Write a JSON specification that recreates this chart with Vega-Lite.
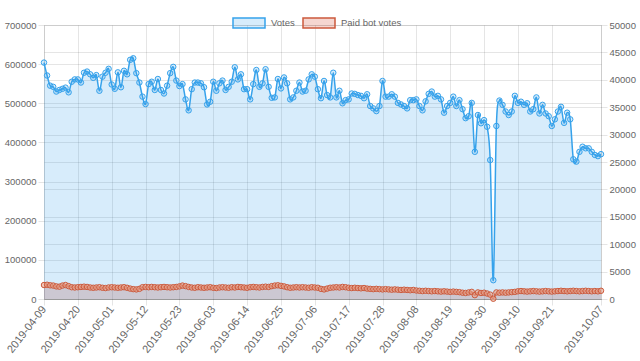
{
  "$schema": "https://vega.github.io/schema/vega-lite/v6.json",
  "width": 557,
  "height": 274,
  "autosize": "none",
  "padding": {"left": 44, "top": 25, "right": 39, "bottom": 62},
  "background": "white",
  "config": {
    "view": {"stroke": null},
    "font": "Liberation Sans",
    "axis": {
      "labelFont": "Liberation Sans",
      "labelFontSize": 9.5,
      "labelColor": "#666666",
      "gridColor": "#000000",
      "gridOpacity": 0.1,
      "tickColor": "#000000",
      "tickOpacity": 0.1,
      "domainColor": "#000000",
      "domainOpacity": 0.1,
      "tickSize": 6,
      "labelPadding": 2,
      "title": null
    }
  },
  "data": {"values": [
    {"date":"2019-04-09","votes":604000,"paid":2550},
    {"date":"2019-04-10","votes":571000,"paid":2600},
    {"date":"2019-04-11","votes":545000,"paid":2500},
    {"date":"2019-04-12","votes":542000,"paid":2450},
    {"date":"2019-04-13","votes":530000,"paid":2300},
    {"date":"2019-04-14","votes":534000,"paid":2250},
    {"date":"2019-04-15","votes":537000,"paid":2450},
    {"date":"2019-04-16","votes":540000,"paid":2550},
    {"date":"2019-04-17","votes":528000,"paid":2350},
    {"date":"2019-04-18","votes":555000,"paid":2150},
    {"date":"2019-04-19","votes":561000,"paid":2100},
    {"date":"2019-04-20","votes":561000,"paid":2150},
    {"date":"2019-04-21","votes":553000,"paid":2200},
    {"date":"2019-04-22","votes":578000,"paid":2250},
    {"date":"2019-04-23","votes":581000,"paid":2200},
    {"date":"2019-04-24","votes":574000,"paid":2100},
    {"date":"2019-04-25","votes":565000,"paid":2050},
    {"date":"2019-04-26","votes":572000,"paid":2100},
    {"date":"2019-04-27","votes":532000,"paid":2150},
    {"date":"2019-04-28","votes":568000,"paid":2050},
    {"date":"2019-04-29","votes":578000,"paid":2000},
    {"date":"2019-04-30","votes":588000,"paid":2100},
    {"date":"2019-05-01","votes":548000,"paid":2150},
    {"date":"2019-05-02","votes":537000,"paid":2100},
    {"date":"2019-05-03","votes":579000,"paid":2050},
    {"date":"2019-05-04","votes":541000,"paid":2100},
    {"date":"2019-05-05","votes":583000,"paid":2150},
    {"date":"2019-05-06","votes":574000,"paid":2050},
    {"date":"2019-05-07","votes":611000,"paid":1900},
    {"date":"2019-05-08","votes":615000,"paid":1800},
    {"date":"2019-05-09","votes":577000,"paid":1750},
    {"date":"2019-05-10","votes":553000,"paid":1850},
    {"date":"2019-05-11","votes":517000,"paid":2150},
    {"date":"2019-05-12","votes":498000,"paid":2200},
    {"date":"2019-05-13","votes":549000,"paid":2150},
    {"date":"2019-05-14","votes":555000,"paid":2200},
    {"date":"2019-05-15","votes":534000,"paid":2150},
    {"date":"2019-05-16","votes":562000,"paid":2100},
    {"date":"2019-05-17","votes":534000,"paid":2150},
    {"date":"2019-05-18","votes":525000,"paid":2200},
    {"date":"2019-05-19","votes":545000,"paid":2150},
    {"date":"2019-05-20","votes":577000,"paid":2100},
    {"date":"2019-05-21","votes":593000,"paid":2150},
    {"date":"2019-05-22","votes":558000,"paid":2200},
    {"date":"2019-05-23","votes":544000,"paid":2300},
    {"date":"2019-05-24","votes":549000,"paid":2450},
    {"date":"2019-05-25","votes":510000,"paid":2350},
    {"date":"2019-05-26","votes":482000,"paid":2200},
    {"date":"2019-05-27","votes":536000,"paid":2100},
    {"date":"2019-05-28","votes":553000,"paid":2050},
    {"date":"2019-05-29","votes":553000,"paid":2150},
    {"date":"2019-05-30","votes":551000,"paid":2100},
    {"date":"2019-05-31","votes":541000,"paid":2050},
    {"date":"2019-06-01","votes":497000,"paid":2100},
    {"date":"2019-06-02","votes":504000,"paid":2150},
    {"date":"2019-06-03","votes":555000,"paid":2050},
    {"date":"2019-06-04","votes":532000,"paid":2000},
    {"date":"2019-06-05","votes":551000,"paid":2100},
    {"date":"2019-06-06","votes":558000,"paid":2150},
    {"date":"2019-06-07","votes":534000,"paid":2100},
    {"date":"2019-06-08","votes":542000,"paid":2050},
    {"date":"2019-06-09","votes":555000,"paid":2150},
    {"date":"2019-06-10","votes":592000,"paid":2100},
    {"date":"2019-06-11","votes":561000,"paid":2200},
    {"date":"2019-06-12","votes":574000,"paid":2150},
    {"date":"2019-06-13","votes":536000,"paid":2100},
    {"date":"2019-06-14","votes":536000,"paid":2050},
    {"date":"2019-06-15","votes":510000,"paid":2150},
    {"date":"2019-06-16","votes":549000,"paid":2200},
    {"date":"2019-06-17","votes":585000,"paid":2150},
    {"date":"2019-06-18","votes":542000,"paid":2100},
    {"date":"2019-06-19","votes":551000,"paid":2200},
    {"date":"2019-06-20","votes":587000,"paid":2250},
    {"date":"2019-06-21","votes":542000,"paid":2200},
    {"date":"2019-06-22","votes":514000,"paid":2350},
    {"date":"2019-06-23","votes":515000,"paid":2450},
    {"date":"2019-06-24","votes":562000,"paid":2500},
    {"date":"2019-06-25","votes":538000,"paid":2400},
    {"date":"2019-06-26","votes":566000,"paid":2300},
    {"date":"2019-06-27","votes":551000,"paid":2150},
    {"date":"2019-06-28","votes":510000,"paid":2050},
    {"date":"2019-06-29","votes":515000,"paid":2100},
    {"date":"2019-06-30","votes":532000,"paid":2150},
    {"date":"2019-07-01","votes":553000,"paid":2100},
    {"date":"2019-07-02","votes":530000,"paid":2150},
    {"date":"2019-07-03","votes":532000,"paid":2100},
    {"date":"2019-07-04","votes":561000,"paid":2050},
    {"date":"2019-07-05","votes":574000,"paid":2150},
    {"date":"2019-07-06","votes":568000,"paid":2100},
    {"date":"2019-07-07","votes":536000,"paid":2050},
    {"date":"2019-07-08","votes":513000,"paid":1850},
    {"date":"2019-07-09","votes":557000,"paid":1750},
    {"date":"2019-07-10","votes":521000,"paid":1900},
    {"date":"2019-07-11","votes":515000,"paid":2050},
    {"date":"2019-07-12","votes":578000,"paid":2100},
    {"date":"2019-07-13","votes":515000,"paid":2150},
    {"date":"2019-07-14","votes":532000,"paid":2100},
    {"date":"2019-07-15","votes":500000,"paid":2200},
    {"date":"2019-07-16","votes":508000,"paid":2150},
    {"date":"2019-07-17","votes":510000,"paid":2050},
    {"date":"2019-07-18","votes":525000,"paid":2000},
    {"date":"2019-07-19","votes":524000,"paid":2050},
    {"date":"2019-07-20","votes":521000,"paid":2000},
    {"date":"2019-07-21","votes":519000,"paid":1950},
    {"date":"2019-07-22","votes":513000,"paid":2000},
    {"date":"2019-07-23","votes":523000,"paid":1900},
    {"date":"2019-07-24","votes":493000,"paid":1850},
    {"date":"2019-07-25","votes":487000,"paid":1800},
    {"date":"2019-07-26","votes":480000,"paid":1850},
    {"date":"2019-07-27","votes":493000,"paid":1800},
    {"date":"2019-07-28","votes":557000,"paid":1750},
    {"date":"2019-07-29","votes":517000,"paid":1800},
    {"date":"2019-07-30","votes":517000,"paid":1750},
    {"date":"2019-07-31","votes":523000,"paid":1700},
    {"date":"2019-08-01","votes":517000,"paid":1750},
    {"date":"2019-08-02","votes":501000,"paid":1700},
    {"date":"2019-08-03","votes":497000,"paid":1650},
    {"date":"2019-08-04","votes":493000,"paid":1700},
    {"date":"2019-08-05","votes":487000,"paid":1650},
    {"date":"2019-08-06","votes":508000,"paid":1600},
    {"date":"2019-08-07","votes":508000,"paid":1650},
    {"date":"2019-08-08","votes":510000,"paid":1550},
    {"date":"2019-08-09","votes":493000,"paid":1500},
    {"date":"2019-08-10","votes":482000,"paid":1450},
    {"date":"2019-08-11","votes":505000,"paid":1500},
    {"date":"2019-08-12","votes":524000,"paid":1450},
    {"date":"2019-08-13","votes":530000,"paid":1400},
    {"date":"2019-08-14","votes":517000,"paid":1450},
    {"date":"2019-08-15","votes":519000,"paid":1400},
    {"date":"2019-08-16","votes":510000,"paid":1350},
    {"date":"2019-08-17","votes":476000,"paid":1400},
    {"date":"2019-08-18","votes":493000,"paid":1350},
    {"date":"2019-08-19","votes":501000,"paid":1300},
    {"date":"2019-08-20","votes":517000,"paid":1350},
    {"date":"2019-08-21","votes":493000,"paid":1300},
    {"date":"2019-08-22","votes":508000,"paid":1250},
    {"date":"2019-08-23","votes":485000,"paid":1150},
    {"date":"2019-08-24","votes":462000,"paid":1100},
    {"date":"2019-08-25","votes":467000,"paid":1200},
    {"date":"2019-08-26","votes":501000,"paid":1300},
    {"date":"2019-08-27","votes":376000,"paid":700},
    {"date":"2019-08-28","votes":470000,"paid":1200},
    {"date":"2019-08-29","votes":449000,"paid":1100},
    {"date":"2019-08-30","votes":457000,"paid":1150},
    {"date":"2019-08-31","votes":440000,"paid":1000},
    {"date":"2019-09-01","votes":355000,"paid":800},
    {"date":"2019-09-02","votes":48000,"paid":50},
    {"date":"2019-09-03","votes":442000,"paid":1200},
    {"date":"2019-09-04","votes":507000,"paid":1150},
    {"date":"2019-09-05","votes":496000,"paid":1200},
    {"date":"2019-09-06","votes":479000,"paid":1150},
    {"date":"2019-09-07","votes":470000,"paid":1200},
    {"date":"2019-09-08","votes":479000,"paid":1250},
    {"date":"2019-09-09","votes":519000,"paid":1300},
    {"date":"2019-09-10","votes":501000,"paid":1400},
    {"date":"2019-09-11","votes":504000,"paid":1450},
    {"date":"2019-09-12","votes":496000,"paid":1400},
    {"date":"2019-09-13","votes":500000,"paid":1350},
    {"date":"2019-09-14","votes":479000,"paid":1400},
    {"date":"2019-09-15","votes":485000,"paid":1450},
    {"date":"2019-09-16","votes":515000,"paid":1400},
    {"date":"2019-09-17","votes":474000,"paid":1350},
    {"date":"2019-09-18","votes":496000,"paid":1400},
    {"date":"2019-09-19","votes":474000,"paid":1450},
    {"date":"2019-09-20","votes":467000,"paid":1400},
    {"date":"2019-09-21","votes":442000,"paid":1350},
    {"date":"2019-09-22","votes":459000,"paid":1400},
    {"date":"2019-09-23","votes":479000,"paid":1450},
    {"date":"2019-09-24","votes":491000,"paid":1500},
    {"date":"2019-09-25","votes":450000,"paid":1450},
    {"date":"2019-09-26","votes":476000,"paid":1400},
    {"date":"2019-09-27","votes":459000,"paid":1450},
    {"date":"2019-09-28","votes":357000,"paid":1500},
    {"date":"2019-09-29","votes":351000,"paid":1450},
    {"date":"2019-09-30","votes":376000,"paid":1400},
    {"date":"2019-10-01","votes":389000,"paid":1450},
    {"date":"2019-10-02","votes":385000,"paid":1500},
    {"date":"2019-10-03","votes":385000,"paid":1450},
    {"date":"2019-10-04","votes":376000,"paid":1400},
    {"date":"2019-10-05","votes":368000,"paid":1450},
    {"date":"2019-10-06","votes":365000,"paid":1400},
    {"date":"2019-10-07","votes":370000,"paid":1500}
  ]},
  "encoding": {
    "x": {
      "field": "date",
      "type": "temporal",
      "scale": {"type": "utc", "domain": [
        {"year": 2019, "month": 4, "date": 9, "utc": true},
        {"year": 2019, "month": 10, "date": 7, "utc": true}
      ]},
      "axis": {
        "values": [
          {"year": 2019, "month": 4, "date": 9, "utc": true},
          {"year": 2019, "month": 4, "date": 20, "utc": true},
          {"year": 2019, "month": 5, "date": 1, "utc": true},
          {"year": 2019, "month": 5, "date": 12, "utc": true},
          {"year": 2019, "month": 5, "date": 23, "utc": true},
          {"year": 2019, "month": 6, "date": 3, "utc": true},
          {"year": 2019, "month": 6, "date": 14, "utc": true},
          {"year": 2019, "month": 6, "date": 25, "utc": true},
          {"year": 2019, "month": 7, "date": 6, "utc": true},
          {"year": 2019, "month": 7, "date": 17, "utc": true},
          {"year": 2019, "month": 7, "date": 28, "utc": true},
          {"year": 2019, "month": 8, "date": 8, "utc": true},
          {"year": 2019, "month": 8, "date": 19, "utc": true},
          {"year": 2019, "month": 8, "date": 30, "utc": true},
          {"year": 2019, "month": 9, "date": 10, "utc": true},
          {"year": 2019, "month": 9, "date": 21, "utc": true},
          {"year": 2019, "month": 10, "date": 7, "utc": true}
        ],
        "format": "%Y-%m-%d",
        "labelFontSize": 11,
        "labelAngle": -52,
        "labelAlign": "right",
        "labelBaseline": "middle",
        "labelOverlap": false,
        "labelFlush": false,
        "grid": true,
        "domainOpacity": 0.25
      }
    }
  },
  "layer": [
    {
      "encoding": {
        "y": {
          "field": "votes",
          "type": "quantitative",
          "scale": {"domain": [0, 700000], "nice": false},
          "axis": {"orient": "left", "values": [0,100000,200000,300000,400000,500000,600000,700000], "format": "d", "grid": true}
        }
      },
      "layer": [
        {"mark": {"type": "area", "interpolate": "cardinal", "fill": "#36a2eb", "fillOpacity": 0.2}},
        {"mark": {"type": "line", "interpolate": "cardinal", "strokeWidth": 1.5},
         "encoding": {"color": {"datum": "Votes", "type": "nominal",
           "scale": {"domain": ["Votes", "Paid bot votes"], "range": ["#36a2eb", "#cc5a3c"]},
           "legend": {
             "title": null,
             "orient": "none",
             "legendX": 188,
             "legendY": -19,
             "direction": "horizontal",
             "symbolType": "M-1,-0.3125H1V0.3125H-1Z",
             "symbolSize": 1024,
             "symbolStrokeWidth": 1.5,
             "labelFont": "Liberation Sans",
             "labelFontSize": 9.5,
             "labelColor": "#666666",
             "labelOffset": 5,
             "columnPadding": 5,
             "encode": {"symbols": {"update": {
               "fill": {"signal": "datum.value === 'Votes' ? 'rgba(54,162,235,0.2)' : 'rgba(210,70,40,0.22)'"},
               "stroke": {"signal": "datum.value === 'Votes' ? '#5fb4ee' : '#d46a4c'"},
               "strokeWidth": {"value": 1.5},
               "opacity": {"value": 1}
             }}}
           }}}},
        {"mark": {"type": "circle", "size": 30, "fill": "#36a2eb", "fillOpacity": 0.2, "stroke": "#36a2eb", "strokeWidth": 1, "opacity": 1}}
      ]
    },
    {
      "encoding": {
        "y": {
          "field": "paid",
          "type": "quantitative",
          "scale": {"domain": [0, 50000], "nice": false},
          "axis": {"orient": "right", "values": [0,5000,10000,15000,20000,25000,30000,35000,40000,45000,50000], "format": "d", "grid": true}
        }
      },
      "layer": [
        {"mark": {"type": "area", "interpolate": "cardinal", "fill": "#a03c32", "fillOpacity": 0.2}},
        {"mark": {"type": "line", "interpolate": "cardinal", "strokeWidth": 1.5},
         "encoding": {"color": {"datum": "Paid bot votes", "type": "nominal"}}},
        {"mark": {"type": "circle", "size": 30, "fill": "#e8a58f", "fillOpacity": 0.6, "stroke": "#cc5a3c", "strokeWidth": 1, "opacity": 1}}
      ]
    }
  ],
  "resolve": {"scale": {"y": "independent"}}
}
